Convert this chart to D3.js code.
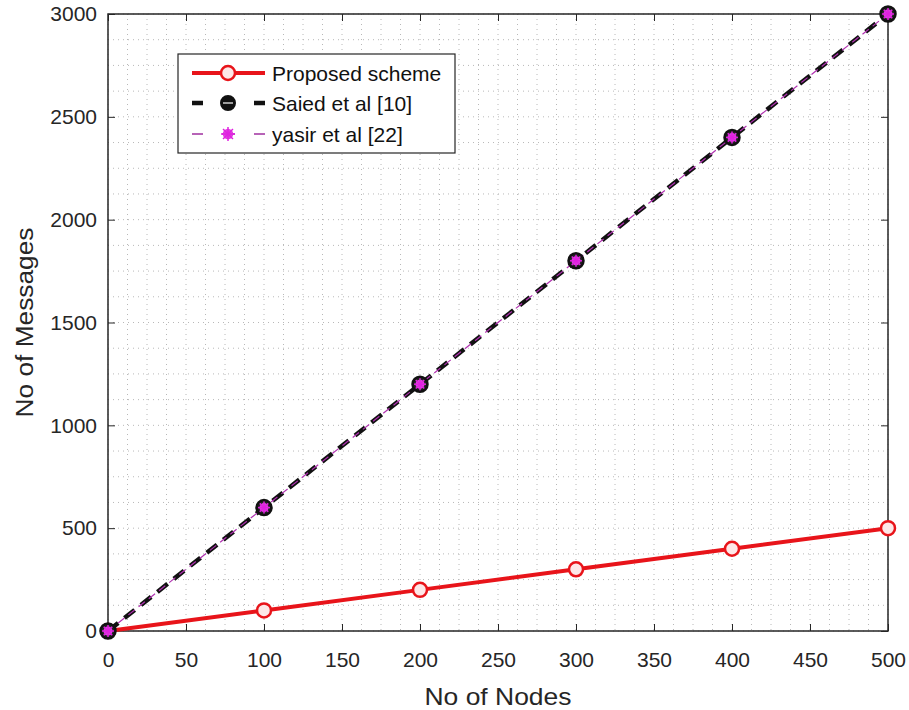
<!DOCTYPE html>
<html lang="en">
<head>
<meta charset="UTF-8">
<title>No of Messages vs No of Nodes</title>
<script src="https://d3js.org/d3.v7.min.js"></script>
<style>
  body { margin: 0; background: #fff; font-family: Arial, "Liberation Sans", sans-serif; }
  svg { display: block; }
  .tick text { font-size: 21px; fill: #262626; }
</style>
</head>
<body>
<svg id="chart" width="909" height="710"></svg>
<script>
const nodes = [0, 100, 200, 300, 400, 500];
const proposed = [0, 100, 200, 300, 400, 500];
const saied = [0, 600, 1200, 1800, 2400, 3000];
const yasir = [0, 600, 1200, 1800, 2400, 3000];
const xTicks = [0, 50, 100, 150, 200, 250, 300, 350, 400, 450, 500];
const yTicks = [0, 500, 1000, 1500, 2000, 2500, 3000];
const legendLabels = ["Proposed scheme", "Saied et al [10]", "yasir et al [22]"];

const margin = {top: 14, right: 21, bottom: 79, left: 108},
      width = 909 - margin.left - margin.right,
      height = 710 - margin.top - margin.bottom;

const svg = d3.select("#chart");
const g = svg.append("g").attr("transform", `translate(${margin.left},${margin.top})`);

const x = d3.scaleLinear().domain([0, 500]).range([0, width]);
const y = d3.scaleLinear().domain([0, 3000]).range([height, 0]);

// dotted grid (major + minor)
const xMinor = d3.range(0, 500.1, 12.5);
const yMinor = d3.range(0, 3000.1, 125);
g.append("g").selectAll("line").data(xMinor).join("line")
  .attr("x1", d => x(d)).attr("x2", d => x(d)).attr("y1", 0).attr("y2", height)
  .attr("stroke", "#b8b8b8").attr("stroke-width", 1).attr("stroke-dasharray", "1,4");
g.append("g").selectAll("line").data(yMinor).join("line")
  .attr("y1", d => y(d)).attr("y2", d => y(d)).attr("x1", 0).attr("x2", width)
  .attr("stroke", "#b8b8b8").attr("stroke-width", 1).attr("stroke-dasharray", "1,4");

// axes with inward ticks
const axisStyle = sel => {
  sel.select(".domain").remove();
  sel.selectAll(".tick line").attr("stroke", "#262626");
};
g.append("g").attr("transform", `translate(0,${height})`)
  .call(d3.axisBottom(x).tickValues(xTicks).tickSizeInner(-7).tickSizeOuter(0).tickPadding(21))
  .call(axisStyle);
g.append("g")
  .call(d3.axisTop(x).tickValues(xTicks).tickSizeInner(-7).tickSizeOuter(0).tickFormat(""))
  .call(axisStyle);
g.append("g")
  .call(d3.axisLeft(y).tickValues(yTicks).tickFormat(d3.format("d")).tickSizeInner(-7).tickSizeOuter(0).tickPadding(11))
  .call(axisStyle);
g.append("g").attr("transform", `translate(${width},0)`)
  .call(d3.axisRight(y).tickValues(yTicks).tickSizeInner(-7).tickSizeOuter(0).tickFormat(""))
  .call(axisStyle);
g.selectAll(".tick text").attr("font-family", "Arial, 'Liberation Sans', sans-serif");

g.append("rect").attr("width", width).attr("height", height)
  .attr("fill", "none").attr("stroke", "#262626").attr("stroke-width", 1.5);

const line = d3.line().x((d, i) => x(nodes[i])).y(d => y(d));

// series lines
g.append("path").datum(proposed).attr("d", line)
  .attr("fill", "none").attr("stroke", "#e8141a").attr("stroke-width", 4);
g.append("path").datum(saied).attr("d", line)
  .attr("fill", "none").attr("stroke", "#111").attr("stroke-width", 4.5).attr("stroke-dasharray", "13,8");
g.append("path").datum(yasir).attr("d", line)
  .attr("fill", "none").attr("stroke", "#b030b0").attr("stroke-width", 1.2).attr("stroke-dasharray", "8,5");

// markers
g.append("g").selectAll("circle").data(proposed).join("circle")
  .attr("cx", (d, i) => x(nodes[i])).attr("cy", d => y(d)).attr("r", 7)
  .attr("fill", "#fde8e8").attr("stroke", "#e8141a").attr("stroke-width", 2.5);
g.append("g").selectAll("circle").data(saied).join("circle")
  .attr("cx", (d, i) => x(nodes[i])).attr("cy", d => y(d)).attr("r", 7.5)
  .attr("fill", "#222").attr("stroke", "#111").attr("stroke-width", 2.5);

const star = (sel, cx, cy, r) => {
  const s = sel.append("g").attr("transform", `translate(${cx},${cy})`);
  s.append("circle").attr("r", r * 0.75).attr("fill", "#e040e0");
  [0, 45, 90, 135].forEach(a => {
    const rad = a * Math.PI / 180;
    s.append("line")
      .attr("x1", -r * Math.cos(rad)).attr("y1", -r * Math.sin(rad))
      .attr("x2", r * Math.cos(rad)).attr("y2", r * Math.sin(rad))
      .attr("stroke", "#e020e0").attr("stroke-width", 1.5);
  });
};
yasir.forEach((d, i) => star(g, x(nodes[i]), y(d), 6));

// axis labels
svg.append("text").attr("x", margin.left + width / 2).attr("y", 705)
  .attr("text-anchor", "middle").attr("font-size", 24).attr("fill", "#262626")
  .attr("textLength", 147).attr("lengthAdjust", "spacingAndGlyphs")
  .text("No of Nodes");
svg.append("text").attr("transform", `translate(33,${margin.top + height / 2}) rotate(-90)`)
  .attr("text-anchor", "middle").attr("font-size", 23).attr("fill", "#262626")
  .attr("textLength", 190).attr("lengthAdjust", "spacingAndGlyphs")
  .text("No of Messages");

// legend
const lg = svg.append("g").attr("transform", "translate(178,54)");
lg.append("rect").attr("width", 277).attr("height", 99)
  .attr("fill", "#fff").attr("stroke", "#262626").attr("stroke-width", 1.2);
const rowY = [19, 49, 80];
legendLabels.forEach((t, i) => {
  const ry = rowY[i];
  if (i === 0) {
    lg.append("line").attr("x1", 14).attr("x2", 87).attr("y1", ry).attr("y2", ry)
      .attr("stroke", "#e8141a").attr("stroke-width", 4);
    lg.append("circle").attr("cx", 50).attr("cy", ry).attr("r", 7)
      .attr("fill", "#fde8e8").attr("stroke", "#e8141a").attr("stroke-width", 2.5);
  } else if (i === 1) {
    lg.append("line").attr("x1", 14).attr("x2", 87).attr("y1", ry).attr("y2", ry)
      .attr("stroke", "#111").attr("stroke-width", 4.5).attr("stroke-dasharray", "11,19,13,19,11");
    lg.append("circle").attr("cx", 50).attr("cy", ry).attr("r", 7)
      .attr("fill", "#111").attr("stroke", "#111").attr("stroke-width", 2);
    lg.append("line").attr("x1", 45).attr("x2", 55).attr("y1", ry).attr("y2", ry)
      .attr("stroke", "#fff").attr("stroke-width", 1.2);
  } else {
    lg.append("line").attr("x1", 14).attr("x2", 87).attr("y1", ry).attr("y2", ry)
      .attr("stroke", "#a030a0").attr("stroke-width", 1.5).attr("stroke-dasharray", "11,19,13,19,11");
    star(lg, 50, ry, 7);
  }
  lg.append("text").attr("x", 94).attr("y", ry + 8).attr("font-size", 21).attr("fill", "#111")
    .text(t);
});
</script>
</body>
</html>
